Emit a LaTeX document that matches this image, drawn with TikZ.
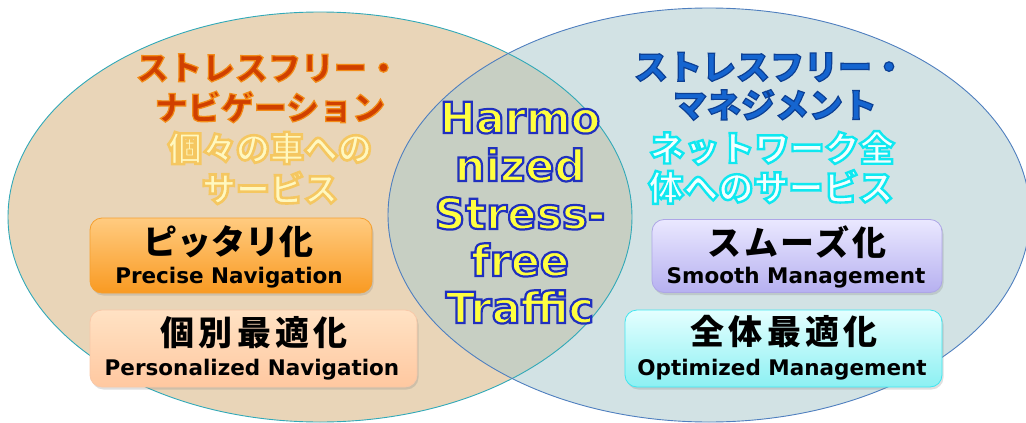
\documentclass[tikz,border=0pt]{standalone}
\usepackage{fontspec}
\usetikzlibrary{shadows}
\newfontfamily\jp{Noto Sans CJK JP}
\newfontfamily\en{DejaVu Sans}
\newfontfamily\dvs{DejaVu Sans}
\definecolor{lfill}{HTML}{E9D5B8}
\definecolor{rfill}{HTML}{D2E2E4}
\definecolor{ofill}{HTML}{C7CFC3}
\definecolor{lline}{HTML}{31A9B8}
\definecolor{rline}{HTML}{4F7FBF}
\definecolor{ltc}{HTML}{D04000}
\definecolor{lsc}{HTML}{FFF8C0}
\definecolor{rtc}{HTML}{1565D0}
\definecolor{rsc}{HTML}{F4FFFF}
\definecolor{ctc}{HTML}{FFFF40}
\definecolor{b1t}{HTML}{FFCB80}
\definecolor{b1b}{HTML}{F99A22}
\definecolor{b1d}{HTML}{F5A030}
\definecolor{b2t}{HTML}{FFE2C4}
\definecolor{b2b}{HTML}{FFC8A0}
\definecolor{b2d}{HTML}{F8C8A8}
\definecolor{b3t}{HTML}{EAE8FF}
\definecolor{b3b}{HTML}{B6B0F0}
\definecolor{b3d}{HTML}{ADA6E6}
\definecolor{b4t}{HTML}{E4FFFF}
\definecolor{b4b}{HTML}{8CF0F2}
\definecolor{b4d}{HTML}{40E6F0}
% outlined text: #1 = stroke rgb, #2 = stroke width, #3 = text
\newcommand\olt[3]{\special{pdf:literal direct #1 RG #2 w 2 Tr}#3\special{pdf:literal direct 0 Tr}}
\tikzset{
  txt/.style={inner sep=0pt, outer sep=0pt},
  ttl/.style={txt, font=\jp\bfseries\fontsize{33}{33}\selectfont},
  sub/.style={txt, font=\jp\bfseries\fontsize{34}{34}\selectfont},
  ctr/.style={txt, anchor=base, font=\dvs\bfseries\fontsize{43}{43}\selectfont, text=ctc},
  boxjp/.style={txt, font=\jp\bfseries\fontsize{34}{34}\selectfont},
  boxen/.style={txt, font=\en\bfseries\fontsize{21.5}{21.5}\selectfont},
  box/.style={draw, line width=0.8pt, rounded corners=12pt, inner sep=0pt,
    drop shadow={opacity=0.25, shadow xshift=1.5pt, shadow yshift=-2.5pt}},
}
\begin{document}
\begin{tikzpicture}[x=1pt,y=-1pt]
\useasboundingbox (0,0) rectangle (1026,423);
% ellipses
\fill[lfill] (320,217) ellipse [x radius=312pt, y radius=205pt];
\fill[rfill] (709,215) ellipse [x radius=321pt, y radius=207pt];
\begin{scope}
  \clip (320,217) ellipse [x radius=312pt, y radius=205pt];
  \fill[ofill] (709,215) ellipse [x radius=321pt, y radius=207pt];
\end{scope}
\draw[lline, line width=0.9pt] (320,217) ellipse [x radius=312pt, y radius=205pt];
\draw[rline, line width=0.9pt] (709,215) ellipse [x radius=321pt, y radius=207pt];
% left titles
\node[ttl, text=ltc] (lt1) at (268,68) {\olt{0.95 0.55 0.1}{1.2}{ストレスフリー・}};
\node[ttl, text=ltc] (lt2) at (270,107) {\olt{0.95 0.55 0.1}{1.2}{ナビゲーション}};
\node[sub, text=lsc] (ls1) at (270,148) {\olt{0.96 0.78 0.38}{2.6}{個々の車への}};
\node[sub, text=lsc] (ls2) at (270,188) {\olt{0.96 0.78 0.38}{2.6}{サービス}};
% right titles
\node[ttl, text=rtc, font=\jp\bfseries\fontsize{34}{34}\selectfont] (rt1) at (770,67) {\olt{0.05 0.25 0.58}{1.2}{ストレスフリー・}};
\node[ttl, text=rtc, font=\jp\bfseries\fontsize{34}{34}\selectfont] (rt2) at (775,105) {\olt{0.05 0.25 0.58}{1.2}{マネジメント}};
\node[sub, text=rsc, font=\jp\bfseries\fontsize{35}{35}\selectfont] (rs1) at (772,148) {\olt{0.06 0.91 0.94}{2.4}{ネットワーク全}};
\node[sub, text=rsc, font=\jp\bfseries\fontsize{35}{35}\selectfont] (rs2) at (771,187) {\olt{0.06 0.91 0.94}{2.4}{体へのサービス}};
% center
\node[ctr] (c1) at (520,133) {\olt{0.125 0.19 0.75}{2.2}{Harmo}};
\node[ctr] (c2) at (520,181) {\olt{0.125 0.19 0.75}{2.2}{nized}};
\node[ctr] (c3) at (520,229) {\olt{0.125 0.19 0.75}{2.2}{Stress-}};
\node[ctr] (c4) at (520,276) {\olt{0.125 0.19 0.75}{2.2}{free}};
\node[ctr] (c5) at (520,323) {\olt{0.125 0.19 0.75}{2.2}{Traffic}};
% boxes
\node[box, draw=b1d, top color=b1t, bottom color=b1b, minimum width=282pt, minimum height=75pt] (b1) at (231,255.5) {};
\node[box, draw=b2d, top color=b2t, bottom color=b2b, minimum width=327pt, minimum height=77pt] (b2) at (253.5,348.5) {};
\node[box, draw=b3d, top color=b3t, bottom color=b3b, minimum width=290pt, minimum height=73pt] (b3) at (797,256) {};
\node[box, draw=b4d, top color=b4t, bottom color=b4b, minimum width=317pt, minimum height=77pt] (b4) at (783.5,348.5) {};
\node[boxjp] (b1j) at (228,242) {ピッタリ化};
\node[boxen] (b1e) at (229,278) {Precise Navigation};
\node[boxjp] (b2j) at (254,333) {\addfontfeature{LetterSpace=13}個別最適化};
\node[boxen] (b2e) at (252,370) {Personalized Navigation};
\node[boxjp] (b3j) at (797,242) {\addfontfeature{LetterSpace=8}スムーズ化};
\node[boxen] (b3e) at (796,278) {Smooth Management};
\node[boxjp] (b4j) at (784,332) {\addfontfeature{LetterSpace=13}全体最適化};
\node[boxen] (b4e) at (782,370) {Optimized Management};
\end{tikzpicture}
\end{document}
